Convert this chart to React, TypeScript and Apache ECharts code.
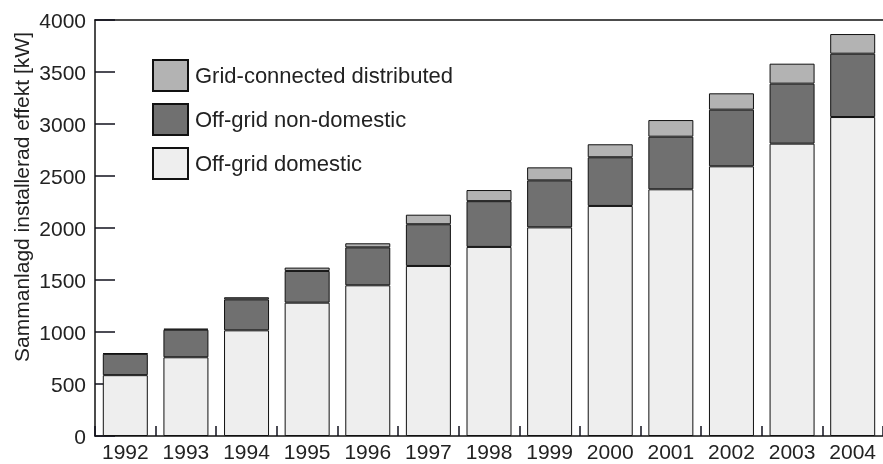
import React, { useEffect, useRef } from "react";
import * as echarts from "echarts";

const years = ["1992", "1993", "1994", "1995", "1996", "1997", "1998", "1999", "2000", "2001", "2002", "2003", "2004"];
const offGridDomestic = [585, 757, 1016, 1282, 1449, 1635, 1818, 2006, 2212, 2372, 2593, 2811, 3067];
const offGridNonDomestic = [205, 265, 298, 305, 365, 401, 440, 452, 468, 506, 545, 577, 609];
const gridConnected = [5, 10, 20, 32, 39, 92, 107, 125, 125, 160, 157, 192, 189];
const seriesNames = ["Off-grid domestic", "Off-grid non-domestic", "Grid-connected distributed"];
const yTitle = "Sammanlagd installerad effekt [kW]";

const FONT = "'Liberation Sans', Arial, Helvetica, sans-serif";
const TICK = "#10101c";

export default function App() {
  const ref = useRef<HTMLDivElement>(null);
  useEffect(() => {
    if (!ref.current) return;
    const chart = echarts.init(ref.current, undefined, { renderer: "svg" });
    const mk = (name: string, data: number[], color: string) => ({
      name,
      type: "bar",
      stack: "total",
      data,
      barWidth: 45,
      xAxisIndex: 0,
      itemStyle: { color, borderColor: "#111", borderWidth: 1 },
    });
    chart.setOption({
      animation: false,
      textStyle: { fontFamily: FONT },
      grid: {
        left: 95,
        top: 20,
        width: 795,
        height: 416,
      },
      legend: {
        orient: "vertical",
        left: 147,
        top: 54,
        itemWidth: 35,
        itemHeight: 31,
        itemGap: 11,
        icon: "rect",
        data: [seriesNames[2], seriesNames[1], seriesNames[0]],
        textStyle: { fontSize: 22, color: "#222", fontFamily: FONT, padding: [0, 0, 0, 2] },
        selectedMode: false,
      },
      xAxis: [
        {
          type: "category",
          data: years,
          axisLine: { show: true, lineStyle: { color: "#111", width: 1.5 } },
          axisTick: { show: true, inside: false, length: -10, interval: 0, lineStyle: { color: TICK, width: 1.5 } },
          axisLabel: { fontSize: 21, color: "#222", margin: 5, fontFamily: FONT, interval: 0 },
          splitLine: { show: false },
        },
        {
          type: "category",
          data: years,
          position: "top",
          axisLine: { show: true, lineStyle: { color: "#111", width: 1.5 } },
          axisTick: { show: false },
          axisLabel: { show: false },
          splitLine: { show: false },
        },
      ],
      yAxis: {
        type: "value",
        min: 0,
        max: 4000,
        interval: 500,
        axisLine: { show: true, lineStyle: { color: "#111", width: 1.5 } },
        axisTick: { show: true, inside: false, length: -20, lineStyle: { color: TICK, width: 1.5 } },
        axisLabel: {
          fontSize: 21,
          color: "#222",
          margin: 9,
          fontFamily: FONT,
          formatter: (v: number) => String(v),
        },
        splitLine: { show: false },
      },
      graphic: [
        {
          type: "text",
          x: 21,
          y: 197,
          rotation: Math.PI / 2,
          style: {
            text: yTitle,
            fontSize: 21,
            fontFamily: FONT,
            fill: "#222",
            textAlign: "center",
            textVerticalAlign: "middle",
          },
        },
      ],
      series: [
        mk(seriesNames[0], offGridDomestic, "#eeeeee"),
        mk(seriesNames[1], offGridNonDomestic, "#707070"),
        mk(seriesNames[2], gridConnected, "#b3b3b3"),
      ],
    });
    return () => chart.dispose();
  }, []);
  return <div ref={ref} style={{ position: "fixed", left: 0, top: 0, width: 883, height: 464 }} />;
}
